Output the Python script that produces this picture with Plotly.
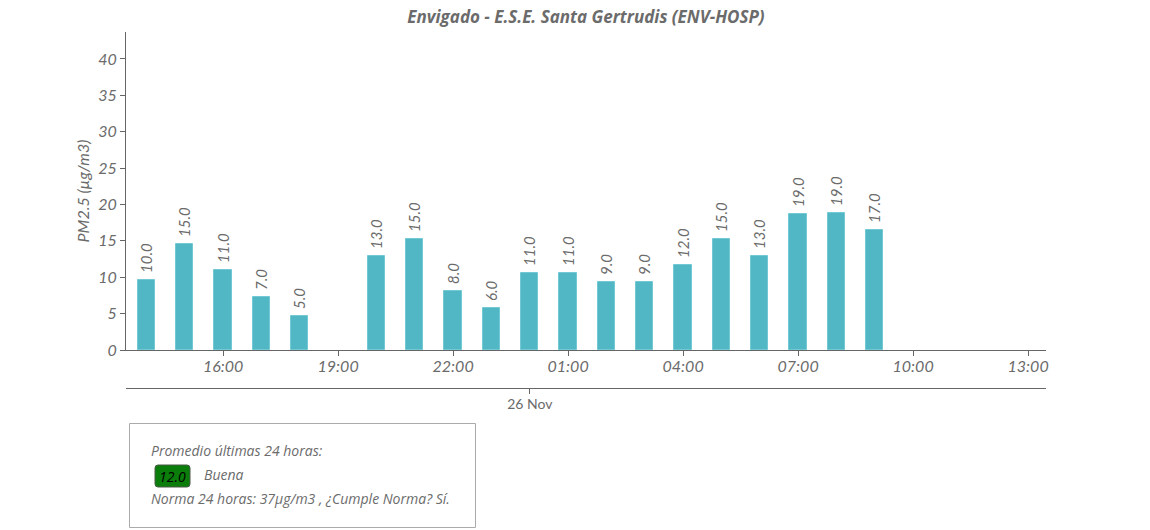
import plotly.graph_objects as go

# Data
times = ["2023-11-25 14:00", "2023-11-25 15:00", "2023-11-25 16:00", "2023-11-25 17:00",
         "2023-11-25 18:00", "2023-11-25 20:00", "2023-11-25 21:00", "2023-11-25 22:00",
         "2023-11-25 23:00", "2023-11-26 00:00", "2023-11-26 01:00", "2023-11-26 02:00",
         "2023-11-26 03:00", "2023-11-26 04:00", "2023-11-26 05:00", "2023-11-26 06:00",
         "2023-11-26 07:00", "2023-11-26 08:00", "2023-11-26 09:00"]
values = [9.6, 14.5, 10.95, 7.25, 4.65, 12.9, 15.25, 8.1, 5.8, 10.6, 10.6, 9.3, 9.3,
          11.7, 15.2, 12.9, 18.7, 18.8, 16.45]
labels = ["10.0", "15.0", "11.0", "7.0", "5.0", "13.0", "15.0", "8.0", "6.0", "11.0",
          "11.0", "9.0", "9.0", "12.0", "15.0", "13.0", "19.0", "19.0", "17.0"]
x_range = ["2023-11-25 13:28", "2023-11-26 13:28"]
title = "Envigado - E.S.E. Santa Gertrudis (ENV-HOSP)"
y_title = "PM2.5 (µg/m3)"
avg_value = "12.0"
avg_label = "Buena"

GRAY = "#6b6b6b"
FONT = "Lato"
FONT2 = "Open Sans"

fig = go.Figure()
fig.add_trace(go.Bar(
    x=times, y=values, text=["\u00a0" + t for t in labels],
    textposition="outside", textangle=-90, constraintext="none",
    textfont=dict(family=FONT, size=15, color=GRAY, style="italic"),
    marker=dict(color="#52b7c5", line=dict(color="#72c8d3", width=1)),
    width=0.45 * 3600000, cliponaxis=False, hoverinfo="x+y",
))
# invisible trace for the date axis
fig.add_trace(go.Scatter(x=[times[0]], y=[None], xaxis="x2", yaxis="y",
                         showlegend=False, hoverinfo="skip"))

H = 530
T, B = 32, 120
paper_h = H - T - B  # 378
def py(pix):
    return (H - B - pix) / paper_h
L, R = 126, 104
paper_w = 1150 - L - R
def px(pix):
    return (pix - L) / paper_w

fig.update_layout(
    width=1150, height=530,
    margin=dict(l=L, r=R, t=T, b=B, autoexpand=False),
    paper_bgcolor="white", plot_bgcolor="white",
    showlegend=False,
    font=dict(family=FONT, color=GRAY),
    title=dict(text="<b><i>" + title + "</i></b>", x=0.5, xanchor="center",
               xref="paper", y=1 - 17 / H, yanchor="middle", automargin=False,
               font=dict(family=FONT2, size=17, color=GRAY)),
    bargap=0,
    xaxis=dict(type="date", range=x_range, domain=[0, 1], anchor="y",
               automargin=False,
               showline=True, linecolor="#666", linewidth=1,
               showgrid=False, zeroline=False,
               ticks="outside", ticklen=5, tickcolor="#666",
               ticklabelstandoff=-3,
               dtick=3 * 3600000, tick0="2023-11-25 16:00", tickformat="%H:%M",
               tickfont=dict(family=FONT, size=16, color=GRAY, style="italic")),
    xaxis2=dict(type="date", range=x_range, overlaying="x", anchor="free",
                position=py(388), side="bottom", automargin=False,
                showline=True, linecolor="#666", linewidth=1,
                showgrid=False, zeroline=False,
                ticks="outside", ticklen=5, tickcolor="#666",
                ticklabelstandoff=-2,
                dtick=86400000, tick0="2023-11-26 00:00", tickformat="%d %b",
                tickfont=dict(family=FONT, size=14, color=GRAY)),
    yaxis=dict(domain=[py(350), 1], range=[0, 43.7], automargin=False,
               showline=True, linecolor="#666", linewidth=1,
               showgrid=False, zeroline=False,
               ticks="outside", ticklen=5, tickcolor="#666", dtick=5,
               tickfont=dict(family=FONT, size=16, color=GRAY, style="italic"),
               title=dict(text="<i>" + y_title + "</i>", standoff=4,
                          font=dict(family=FONT, size=16, color=GRAY))),
)

# info box
fig.add_shape(type="rect", xref="paper", yref="paper",
              x0=px(129.5), x1=px(475.5), y0=py(423.5), y1=py(527.5),
              line=dict(color="#aaaaaa", width=1), fillcolor="rgba(0,0,0,0)")

# rounded badge
bx0, bx1, by0, by1, r = 155, 190, 465, 487, 3
badge_path = (
    f"M {px(bx0 + r)},{py(by0)} L {px(bx1 - r)},{py(by0)} "
    f"Q {px(bx1)},{py(by0)} {px(bx1)},{py(by0 + r)} "
    f"L {px(bx1)},{py(by1 - r)} Q {px(bx1)},{py(by1)} {px(bx1 - r)},{py(by1)} "
    f"L {px(bx0 + r)},{py(by1)} Q {px(bx0)},{py(by1)} {px(bx0)},{py(by1 - r)} "
    f"L {px(bx0)},{py(by0 + r)} Q {px(bx0)},{py(by0)} {px(bx0 + r)},{py(by0)} Z"
)
fig.add_shape(type="path", xref="paper", yref="paper", path=badge_path,
              fillcolor="#0b7d0b", line=dict(color="#4a5a4a", width=1))

fig.add_annotation(xref="paper", yref="paper", x=px(149), y=py(450),
                   xanchor="left", yanchor="middle", showarrow=False,
                   text="<i>Promedio últimas 24 horas:</i>",
                   font=dict(family=FONT2, size=14, color=GRAY))
fig.add_annotation(xref="paper", yref="paper", x=px(172.5), y=py(476),
                   xanchor="center", yanchor="middle", showarrow=False,
                   text="<i>" + avg_value + "</i>",
                   font=dict(family=FONT2, size=14, color="black"))
fig.add_annotation(xref="paper", yref="paper", x=px(202), y=py(475),
                   xanchor="left", yanchor="middle", showarrow=False,
                   text="<i>" + avg_label + "</i>",
                   font=dict(family=FONT2, size=14, color=GRAY))
fig.add_annotation(xref="paper", yref="paper", x=px(149), y=py(498),
                   xanchor="left", yanchor="middle", showarrow=False,
                   text="<i>Norma 24 horas: 37µg/m3 , ¿Cumple Norma? Sí.</i>",
                   font=dict(family=FONT2, size=14, color=GRAY))

fig.write_html("out.html", config={"displayModeBar": False},
               post_script="document.body.style.margin='0px';")
